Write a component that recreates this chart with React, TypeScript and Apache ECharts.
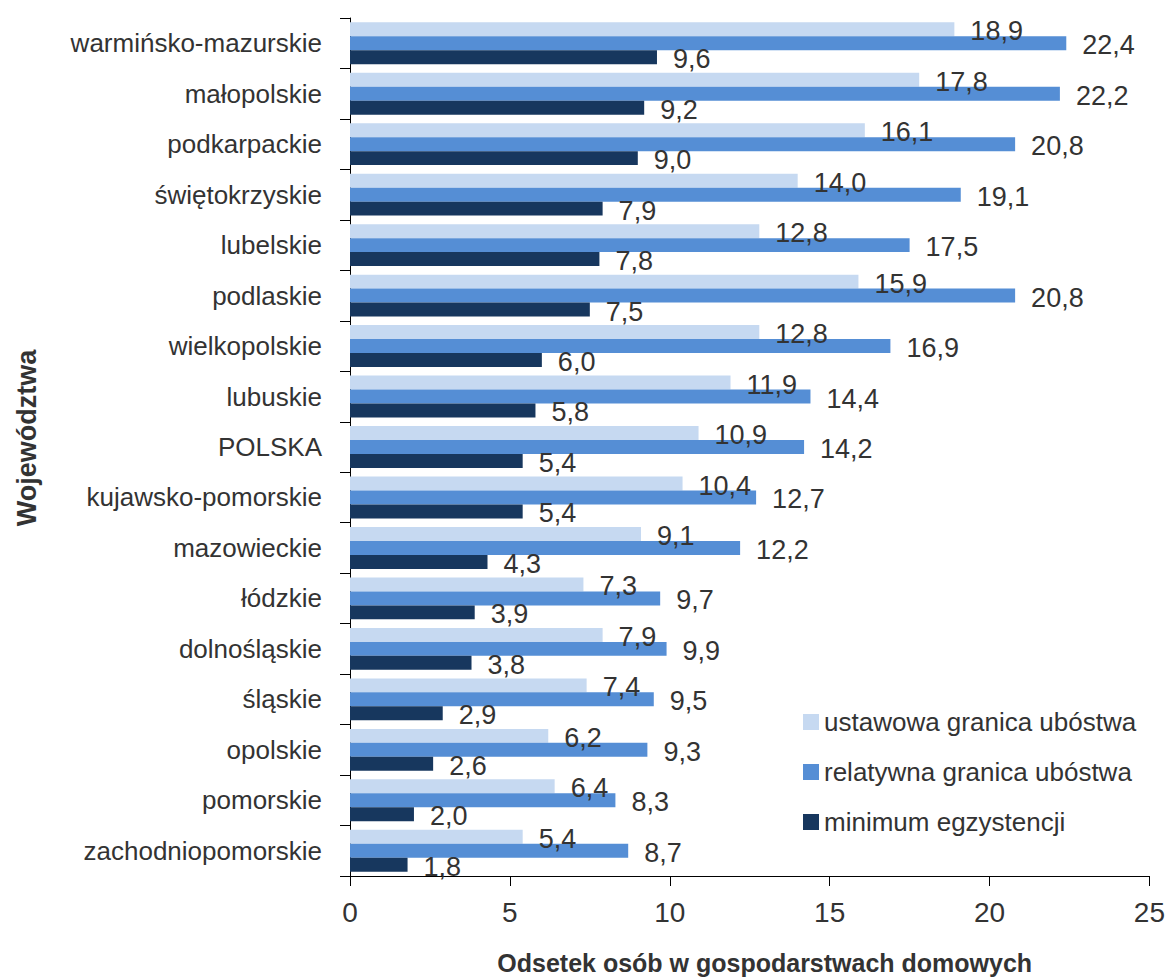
import React, { useEffect, useRef } from "react";
import * as echarts from "echarts";

const categories = [
  "warmińsko-mazurskie",
  "małopolskie",
  "podkarpackie",
  "świętokrzyskie",
  "lubelskie",
  "podlaskie",
  "wielkopolskie",
  "lubuskie",
  "POLSKA",
  "kujawsko-pomorskie",
  "mazowieckie",
  "łódzkie",
  "dolnośląskie",
  "śląskie",
  "opolskie",
  "pomorskie",
  "zachodniopomorskie",
];
const ustawowa = [18.9, 17.8, 16.1, 14.0, 12.8, 15.9, 12.8, 11.9, 10.9, 10.4, 9.1, 7.3, 7.9, 7.4, 6.2, 6.4, 5.4];
const relatywna = [22.4, 22.2, 20.8, 19.1, 17.5, 20.8, 16.9, 14.4, 14.2, 12.7, 12.2, 9.7, 9.9, 9.5, 9.3, 8.3, 8.7];
const minimum = [9.6, 9.2, 9.0, 7.9, 7.8, 7.5, 6.0, 5.8, 5.4, 5.4, 4.3, 3.9, 3.8, 2.9, 2.6, 2.0, 1.8];
const seriesNames = ["ustawowa granica ubóstwa", "relatywna granica ubóstwa", "minimum egzystencji"];
const xTicks = [0, 5, 10, 15, 20, 25];

const FONT = "'Liberation Sans Narrow', 'Arial Narrow', 'Liberation Sans', Arial, sans-serif";
const TXT = "#333333";

export default function App() {
  const ref = useRef<HTMLDivElement>(null);
  useEffect(() => {
    const chart = echarts.init(ref.current!, undefined, { renderer: "svg" });
    const label = {
      show: true,
      position: "right",
      distance: 16,
      offset: [0, 2],
      fontFamily: FONT,
      fontSize: 27,
      color: TXT,
      formatter: (p: any) => Number(p.value).toFixed(1).replace(".", ","),
    };
    const colors = ["#c6d9f1", "#558ed5", "#17375e"];
    const datasets = [ustawowa, relatywna, minimum];
    chart.setOption({
      animation: false,
      textStyle: { fontFamily: FONT },
      grid: { left: 350, right: 16, top: 18, bottom: 100, containLabel: false },
      legend: {
        orient: "vertical",
        left: 798,
        top: 704,
        itemWidth: 16,
        itemHeight: 16,
        itemGap: 24,
        icon: "rect",
        textStyle: { fontFamily: FONT, fontSize: 26, color: TXT, padding: [0, 0, 0, 0] },
        data: seriesNames,
      },
      xAxis: {
        type: "value",
        min: xTicks[0],
        max: xTicks[xTicks.length - 1],
        interval: 5,
        name: "Odsetek osób w gospodarstwach domowych",
        nameLocation: "middle",
        nameGap: 74,
        nameTextStyle: {
          fontFamily: FONT,
          fontSize: 25,
          fontWeight: "bold",
          color: TXT,
          padding: [0, 0, 0, 30],
        },
        axisLine: { show: true, lineStyle: { color: "#000", width: 1 } },
        axisTick: { show: true, length: 10, inside: false, lineStyle: { color: "#000" } },
        axisLabel: { fontFamily: FONT, fontSize: 28, color: TXT, margin: 22 },
        splitLine: { show: false },
      },
      yAxis: {
        type: "category",
        inverse: true,
        data: categories,
        name: "Województwa",
        nameLocation: "middle",
        nameGap: 310,
        nameRotate: 90,
        nameTextStyle: {
          fontFamily: FONT,
          fontSize: 27,
          fontWeight: "bold",
          color: TXT,
          padding: [0, 0, 0, 18],
        },
        axisLine: { show: true, lineStyle: { color: "#000", width: 1 } },
        axisTick: { show: true, length: 10, alignWithLabel: false, lineStyle: { color: "#000" } },
        axisLabel: { fontFamily: FONT, fontSize: 26, color: TXT, margin: 28 },
      },
      series: datasets.map((d, i) => ({
        type: "bar",
        name: seriesNames[i],
        data: d,
        barGap: "0%",
        barCategoryGap: "17%",
        itemStyle: { color: colors[i] },
        label,
      })),
    });
    return () => chart.dispose();
  }, []);
  return (
    <div
      ref={ref}
      style={{ position: "absolute", left: 0, top: 0, width: 1168, height: 980, background: "#fff" }}
    />
  );
}
